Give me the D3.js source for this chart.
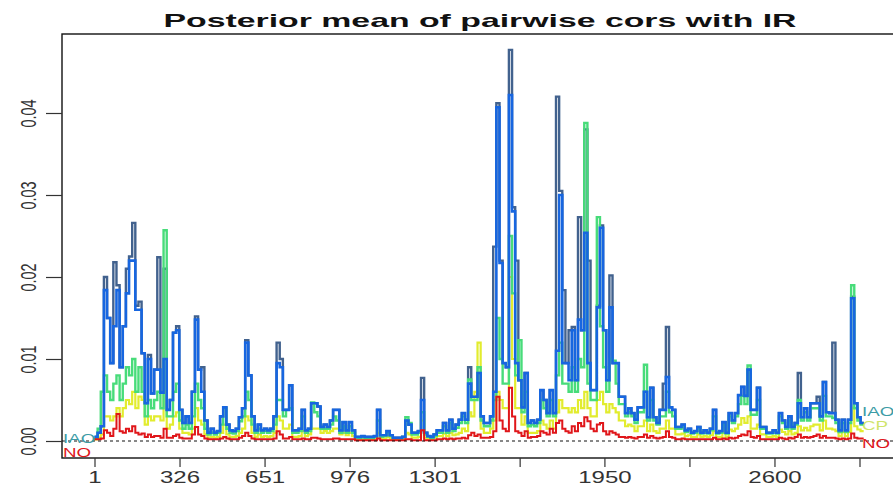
<!DOCTYPE html>
<html>
<head>
<meta charset="utf-8">
<script src="https://cdn.jsdelivr.net/npm/d3@7"></script>
<style>
  body { margin: 0; background: #fff; }
  svg { display: block; font-family: "Liberation Sans", Arial, sans-serif; }
</style>
</head>
<body>
<div id="chart"></div>
<script>
// posterior means, in units of 0.001,
// one value every 12 positions starting at position 1
const slateVals = [
  0.5, 1.0, 1.8, 20, 15, 9.5, 21.8, 19, 9, 14,
  21, 22.5, 26.6, 16.5, 17, 10.7, 4.6, 10.5, 5.8, 8.7,
  22.4, 5.9, 21, 3.8, 5, 13.2, 14, 3.8, 2.2, 3,
  2.2, 6, 15.2, 8.7, 9, 2.5, 1, 1.5, 1, 1.2,
  3, 4.1, 2, 1.3, 1.2, 1.5, 2.9, 4, 12.3, 8,
  3, 1.3, 2, 1.3, 1.5, 1.3, 1.5, 3, 12, 10,
  3.8, 3.8, 6.8, 1.3, 1.3, 1.5, 3.8, 1.3, 1.5, 4.6,
  4.6, 4.2, 1.7, 2, 1.7, 2.5, 3.8, 3.8, 1.3, 2.3,
  1.3, 2.3, 1.3, 0.5, 0.5, 0.6, 0.5, 0.5, 0.5, 0.6,
  3.8, 0.7, 0.7, 1.2, 0.7, 0.4, 0.4, 0.4, 0.5, 2.5,
  2, 1, 1, 1.2, 7.7, 1, 0.6, 0.5, 0.8, 1.3,
  1.3, 2.2, 1.3, 2.6, 1.5, 2, 2.6, 3.4, 2.6, 9,
  5.4, 5.4, 8.3, 3, 2.2, 2.2, 3, 23.7, 41.2, 22,
  9.5, 9, 47.7, 28.5, 22, 7.4, 4.1, 8.3, 2.2, 2.5,
  2.2, 2.6, 6.2, 5, 3.4, 6.2, 3.4, 42, 30.5, 18.4,
  9.5, 13.5, 13.9, 7.4, 27.3, 13.5, 38, 22, 6.2, 6.2,
  16.5, 26.3, 13.5, 7.4, 20.2, 9.5, 9.5, 5.4, 5.4, 3.4,
  4, 3.4, 2.6, 4.1, 4.1, 6, 2.9, 6.5, 2.9, 2.2,
  3.8, 7, 13.9, 4.1, 3.8, 1.7, 1.7, 2, 1.3, 1.5,
  1, 1.2, 1.7, 1, 1.3, 1, 1.5, 3.8, 1, 1.2,
  2.3, 1, 3.4, 2.5, 3.4, 5.6, 6.6, 5.5, 8.7, 3.8,
  3.8, 6.5, 1.7, 1.7, 1, 1, 1.3, 1, 3.4, 2.5,
  1.7, 3, 1.7, 2.2, 8.3, 2.9, 4, 2.9, 4.6, 4.6,
  5.4, 3, 7.2, 3.5, 3.4, 12, 2.6, 1.3, 2.6, 1.3,
  2.6, 17.6, 4.6, 2.9, 2.2, 2.2
];
const greenVals = [
  0.4, 1.5, 6, 8, 6, 5, 7, 8, 5, 7,
  9, 8, 10, 6, 9, 6, 3, 5, 4, 5,
  6, 4, 25.7, 3, 3, 6, 7, 2.5, 1.5, 2,
  1.5, 3, 7, 5, 4, 1.5, 0.8, 1, 0.8, 1,
  2, 4, 1.5, 1, 0.9, 1.2, 2.4, 3, 6, 5,
  2, 1, 1.5, 1, 1.2, 1, 1.2, 2, 5, 5,
  3, 3.8, 4, 1, 1, 1.2, 3, 1, 1.2, 4.7,
  3.5, 3, 1.5, 1.5, 1.5, 2, 3, 2.5, 1, 1.8,
  1, 1.8, 1, 0.4, 0.4, 0.5, 0.4, 0.4, 0.4, 0.5,
  2.5, 0.5, 0.6, 1, 0.6, 0.3, 0.3, 0.3, 0.5, 2.9,
  2.2, 0.8, 0.8, 1, 3.5, 0.8, 0.5, 0.4, 0.6, 1,
  1, 1.8, 1, 2.2, 1.2, 1.6, 2.2, 3, 2.2, 7.5,
  5, 5, 9, 2.5, 1.8, 1.8, 2.5, 5, 15, 10,
  7, 7, 25, 18, 8, 12.3, 3.5, 6, 1.8, 2,
  1.8, 2.2, 5, 4, 3, 5, 3, 8, 12, 7,
  7, 6, 9, 6, 10, 9, 38.8, 7, 5, 5,
  27.3, 14, 9, 6, 10, 9.8, 7, 4.5, 4.5, 3,
  3.5, 3, 2.2, 3.5, 3.5, 9.3, 2.5, 5, 2.5, 2,
  3, 3, 6, 3.5, 3, 1.5, 1.5, 1.7, 1.1, 1.3,
  0.9, 1, 1.5, 0.9, 1.1, 0.9, 1.3, 3, 0.9, 1,
  2, 0.9, 3, 2.2, 3, 4.5, 5.5, 4.5, 9.2, 3.2,
  3.2, 5, 1.5, 1.5, 0.9, 0.9, 1.1, 0.9, 3, 2.2,
  1.5, 2.5, 1.5, 2, 5, 2.5, 3.5, 2.5, 4, 4,
  4, 2.5, 5.5, 3, 3, 2.8, 2.2, 1.1, 2.2, 1.1,
  2.2, 19, 4, 2.5, 2, 2
];
const blueVals = [
  0.5, 1.0, 1.8, 18.4, 15, 9.5, 14, 18.4, 9, 14,
  18, 22, 22, 16, 16, 10.7, 4.6, 10, 5.8, 8.7,
  8.7, 5.9, 10, 3.8, 5, 13.2, 13.5, 3.8, 2.2, 3,
  2.2, 6, 14.8, 8.7, 6, 2.5, 1, 1.5, 1, 1.2,
  3, 4.1, 2, 1.3, 1.2, 1.5, 2.9, 4, 12, 8,
  3, 1.3, 2, 1.3, 1.5, 1.3, 1.5, 3, 9.5, 9,
  3.8, 3.8, 6.8, 1.3, 1.3, 1.5, 3.8, 1.3, 1.5, 4.6,
  4.6, 4.2, 1.7, 2, 1.7, 2.5, 3.8, 3.8, 1.3, 2.3,
  1.3, 2.3, 1.3, 0.5, 0.5, 0.6, 0.5, 0.5, 0.5, 0.6,
  3.8, 0.7, 0.7, 1.2, 0.7, 0.4, 0.4, 0.4, 0.5, 2.5,
  2, 1, 1, 1.2, 5, 1, 0.6, 0.5, 0.8, 1.3,
  1.3, 2.2, 1.3, 2.6, 1.5, 2, 2.6, 3.4, 2.6, 7,
  5.4, 5.4, 8.3, 3, 2.2, 2.2, 3, 6, 40.7, 21.7,
  9.5, 9, 42.2, 28, 9.5, 7.4, 4.1, 8.3, 2.2, 2.5,
  2.2, 2.6, 6.2, 5, 3.4, 6.2, 3.4, 11, 30, 9.5,
  9.5, 7.4, 13.5, 7.4, 14.8, 13.5, 25.4, 9.5, 6.2, 6.2,
  16.3, 26, 13.5, 7.4, 16.3, 9.5, 9.5, 5.4, 5.4, 3.4,
  4, 3.4, 2.6, 4.1, 4.1, 6, 2.9, 6.5, 2.9, 2.2,
  3.8, 3.8, 7.8, 4.1, 3.8, 1.7, 1.7, 2, 1.3, 1.5,
  1, 1.2, 1.7, 1, 1.3, 1, 1.5, 3.8, 1, 1.2,
  2.3, 1, 3.4, 2.5, 3.4, 5.6, 6.6, 5.5, 8.7, 3.8,
  3.8, 6.5, 1.7, 1.7, 1, 1, 1.3, 1, 3.4, 2.5,
  1.7, 3, 1.7, 2.2, 4.6, 2.9, 4, 2.9, 4.6, 4.6,
  4.6, 3, 7.2, 3.5, 3.4, 3.4, 2.6, 1.3, 2.6, 1.3,
  2.6, 17.4, 4.6, 2.9, 2.2, 2.2
];
const yellowVals = [
  0.2, 0.4, 0.8, 3, 3, 2.5, 3, 4, 3, 4,
  5, 4.5, 6, 4, 5.4, 5, 2, 3, 2.5, 3,
  3, 2.5, 6, 1.5, 2, 3, 3.5, 1.5, 1, 1,
  0.8, 1.5, 4, 2.5, 2, 0.8, 0.4, 0.5, 0.4, 0.5,
  1, 2, 0.8, 0.5, 0.5, 0.6, 1, 1.5, 3, 2.5,
  1, 0.5, 0.8, 0.5, 0.6, 0.5, 0.6, 1, 3, 2.5,
  1.5, 1.5, 2, 0.5, 0.5, 0.6, 1.2, 0.6, 0.8, 1.5,
  1.5, 1.5, 1, 1.2, 1, 1.2, 1.5, 1.5, 0.8, 1,
  0.7, 1, 0.6, 0.2, 0.2, 0.3, 0.2, 0.2, 0.2, 0.3,
  1, 0.3, 0.3, 0.5, 0.3, 0.2, 0.2, 0.2, 0.3, 1,
  0.8, 0.4, 0.4, 0.5, 2.5, 0.4, 0.3, 0.2, 0.4, 0.6,
  0.6, 0.9, 0.6, 1, 0.7, 0.8, 1, 1.5, 1.2, 3.5,
  3, 6, 12, 1.5, 1, 1, 1.5, 2.5, 6, 5,
  4, 4, 20, 10, 4, 4, 2, 3, 1, 1,
  1, 1.2, 2.5, 2, 1.5, 2.5, 1.5, 3.5, 5, 4,
  4, 3.5, 4, 3.5, 5, 4, 6, 4, 3, 3,
  5, 6, 4.5, 3.5, 4.5, 4, 3.5, 2.5, 2.5, 1.8,
  2, 1.8, 1.2, 1.8, 1.8, 2.5, 1.2, 2, 1.2, 1,
  1.5, 1.5, 2.5, 1.5, 1.5, 0.8, 0.8, 0.9, 0.6, 0.7,
  0.5, 0.5, 0.8, 0.5, 0.6, 0.5, 0.7, 1.2, 0.5, 0.5,
  1, 0.5, 1.4, 1.2, 1.5, 2, 2.8, 2.2, 3, 1.5,
  1.5, 2, 0.8, 0.8, 0.5, 0.5, 0.6, 0.5, 1.4, 1.1,
  0.8, 1.2, 0.8, 1, 1.8, 1.3, 1.6, 1.3, 1.8, 2,
  2, 1.3, 2.5, 1.5, 1.5, 1.4, 1.2, 0.6, 1.1, 0.6,
  1.1, 4, 1.8, 1.4, 1.2, 1.2
];
const redVals = [
  0.2, 0.2, 0.3, 1.3, 1, 0.6, 1.5, 3.3, 1.2, 1,
  1.5, 1.2, 1.8, 1, 0.8, 0.9, 0.5, 0.8, 0.5, 0.6,
  0.6, 0.4, 1.5, 0.4, 0.4, 0.6, 0.8, 0.4, 0.3, 0.3,
  0.3, 0.8, 1.7, 0.8, 0.6, 0.3, 0.2, 0.2, 0.2, 0.2,
  0.3, 0.5, 0.3, 0.2, 0.2, 0.2, 0.4, 0.6, 1, 0.6,
  0.3, 0.2, 0.2, 0.2, 0.2, 0.2, 0.2, 0.3, 1.2, 0.8,
  0.3, 0.3, 0.5, 0.2, 0.2, 0.2, 0.3, 0.2, 0.2, 0.4,
  0.4, 0.3, 0.2, 0.2, 0.2, 0.2, 0.3, 0.3, 0.2, 0.2,
  0.2, 0.2, 0.2, 0.1, 0.1, 0.1, 0.1, 0.1, 0.1, 0.1,
  0.3, 0.1, 0.1, 0.1, 0.1, 0.1, 0.1, 0.1, 0.1, 0.2,
  0.2, 0.1, 0.1, 0.1, 1.3, 0.1, 0.1, 0.1, 0.1, 0.2,
  0.2, 0.3, 0.2, 0.3, 0.2, 0.3, 0.3, 0.4, 0.3, 0.7,
  1, 0.6, 0.8, 0.4, 0.4, 0.4, 0.5, 1.2, 5.4, 2.5,
  1.5, 1.2, 6.5, 3, 1.2, 1, 0.6, 1.2, 0.4, 0.5,
  0.5, 0.6, 1.2, 1, 0.8, 1.5, 1, 2.2, 2.5, 1.5,
  1.2, 1, 1.8, 1.2, 2.2, 1.8, 2.9, 2.4, 1.5, 1.2,
  2, 2.2, 1.2, 0.8, 1.2, 1, 0.8, 0.5, 0.5, 0.4,
  0.5, 0.4, 0.3, 0.5, 0.5, 0.8, 0.4, 0.6, 0.4, 0.3,
  0.4, 0.5, 1.2, 0.5, 0.4, 0.2, 0.2, 0.3, 0.2, 0.2,
  0.2, 0.2, 0.2, 0.2, 0.2, 0.2, 0.2, 0.4, 0.2, 0.2,
  0.3, 0.2, 0.4, 0.3, 0.4, 0.6, 0.8, 0.7, 1.2, 0.5,
  0.4, 0.6, 0.2, 0.2, 0.2, 0.2, 0.2, 0.2, 0.4, 0.3,
  0.2, 0.4, 0.3, 0.5, 0.8, 0.4, 0.5, 0.4, 0.5, 0.6,
  0.8, 0.4, 0.6, 0.4, 0.4, 0.4, 0.3, 0.2, 0.3, 0.2,
  0.3, 0.9, 0.4, 0.3, 0.3, 0.3
];

const xTicks = [1, 326, 651, 976, 1301, 1626, 1950, 2275, 2600, 2925];
const xTickLabels = ["1", "326", "651", "976", "1301", "", "1950", "", "2600", ""];
const yTicks = [0, 0.01, 0.02, 0.03, 0.04];
const yTickLabels = ["0.00", "0.01", "0.02", "0.03", "0.04"];

// series names written at the two ends of the lines
const startNames = ["IAO", "NO"];
const startColors = ["#3d9ca6", "#e0161a"];
const startLabelVals = [0.0004, -0.0013];
const endNames = ["IAO", "CP", "NO"];
const endColors = ["#3d9ca6", "#cfe46a", "#e0161a"];
const endLabelVals = [0.0037, 0.0019, -0.0003];

const width = 893, height = 486;
const sx = 1.5; // the picture is stretched sideways

const x = d3.scaleLinear().domain([1, 2925]).range([94.5, 859.5]);
const y = d3.scaleLinear().domain([0, 0.04]).range([441, 113]);

const svg = d3.select("#chart").append("svg")
    .attr("width", width)
    .attr("height", height);

svg.append("defs").append("clipPath").attr("id", "plotclip")
  .append("rect")
    .attr("x", 62).attr("y", 34)
    .attr("width", width - 62).attr("height", 424);

// drawing order: back to front
const series = [
  {vals: slateVals, color: "#42628e", w: 2.4},
  {vals: yellowVals, color: "#e2ec2e", w: 2.2},
  {vals: greenVals, color: "#48dc7a", w: 2.4},
  {vals: blueVals, color: "#1766e0", w: 2.6},
  {vals: redVals, color: "#e0161a", w: 2}
];

const line = d3.line()
    .curve(d3.curveStepAfter)
    .x((d, k) => x(1 + 12 * k))
    .y(d => y(d / 1000));

const plot = svg.append("g").attr("clip-path", "url(#plotclip)");

plot.selectAll("path.ser")
  .data(series)
  .join("path")
    .attr("class", "ser")
    .attr("fill", "none")
    .attr("stroke", d => d.color)
    .attr("stroke-width", d => d.w)
    .attr("d", d => line(d.vals));

// zero line
plot.append("line")
    .attr("x1", 62).attr("x2", width)
    .attr("y1", y(0)).attr("y2", y(0))
    .attr("stroke", "#111")
    .attr("stroke-width", 1)
    .attr("stroke-dasharray", "3,3");

// labels at start and end
plot.selectAll("text.start")
  .data(startNames)
  .join("text")
    .attr("class", "start")
    .attr("transform", (d, i) => `translate(63,${y(startLabelVals[i]) + 5}) scale(${sx},1)`)
    .attr("fill", (d, i) => startColors[i])
    .attr("font-size", 12.5)
    .text(d => d);

plot.selectAll("text.end")
  .data(endNames)
  .join("text")
    .attr("class", "end")
    .attr("transform", (d, i) => `translate(862,${y(endLabelVals[i]) + 5}) scale(${sx},1)`)
    .attr("fill", (d, i) => endColors[i])
    .attr("font-size", 12.5)
    .text(d => d);

// box
svg.append("rect")
    .attr("x", 62).attr("y", 34)
    .attr("width", 900).attr("height", 424)
    .attr("fill", "none")
    .attr("stroke", "#111")
    .attr("stroke-width", 1.4);

const yAxis = svg.append("g")
    .attr("transform", "translate(62,0)")
    .call(d3.axisLeft(y).tickValues(yTicks).tickSize(16).tickFormat((d, i) => yTickLabels[i]));
yAxis.select(".domain").remove();
yAxis.selectAll(".tick line").attr("stroke", "#333").attr("stroke-width", 1.2);
yAxis.selectAll(".tick text")
    .attr("x", null).attr("dy", null)
    .attr("text-anchor", "middle")
    .attr("fill", "#333")
    .attr("font-size", 14.5)
    .attr("font-family", "Liberation Sans, Arial, sans-serif")
    .attr("transform", `translate(-26,0) scale(${sx},1) rotate(-90)`);

const xAxis = svg.append("g")
    .attr("transform", "translate(0,458)")
    .call(d3.axisBottom(x).tickValues(xTicks).tickSize(9).tickFormat((d, i) => xTickLabels[i]));
xAxis.select(".domain").remove();
xAxis.selectAll(".tick line").attr("stroke", "#333").attr("stroke-width", 1.2);
xAxis.selectAll(".tick text")
    .attr("y", null).attr("dy", null)
    .attr("fill", "#333")
    .attr("font-size", 16)
    .attr("font-family", "Liberation Sans, Arial, sans-serif")
    .attr("transform", `translate(0,25) scale(${sx},1)`);

svg.append("text")
    .attr("x", 480).attr("y", 27)
    .attr("text-anchor", "middle")
    .attr("font-weight", "bold")
    .attr("font-size", 19)
    .attr("fill", "#111")
    .attr("textLength", 633)
    .attr("lengthAdjust", "spacingAndGlyphs")
    .text("Posterior mean of pairwise cors with IR");
</script>
</body>
</html>
